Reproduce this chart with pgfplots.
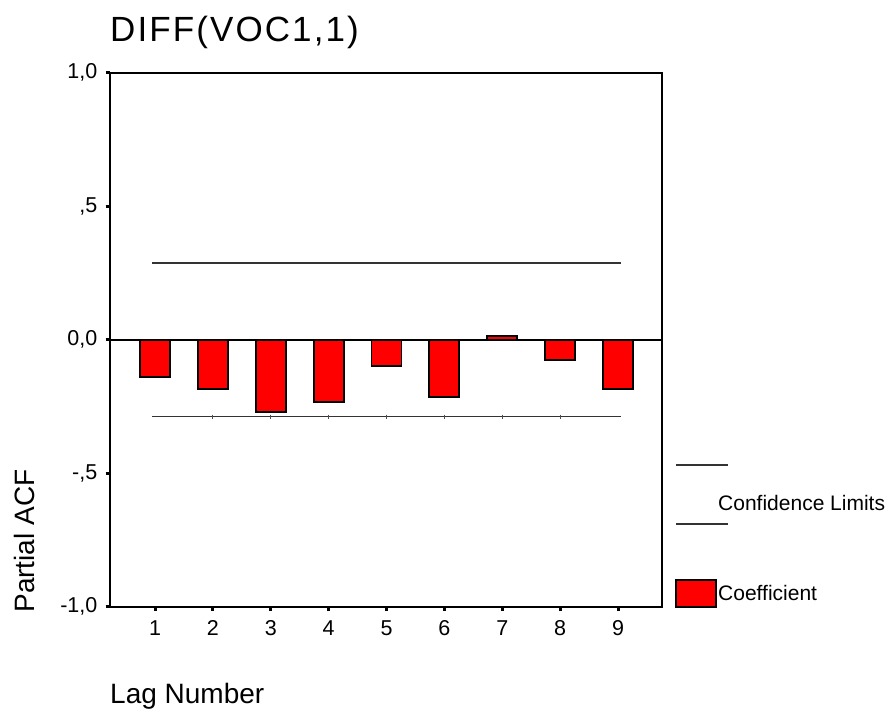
\documentclass[border=0pt]{standalone}
\usepackage{fontspec}
\setmainfont{Liberation Sans}
\usepackage{pgfplots}
\pgfplotsset{compat=1.18}
\begin{document}
\begin{tikzpicture}
\useasboundingbox (0pt,0pt) rectangle (885pt,713pt);
\begin{axis}[
  at={(110pt,106.3pt)}, anchor=south west,
  scale only axis, width=552pt, height=534pt,
  xmin=0.2225, xmax=9.76, ymin=-1, ymax=1,
  axis line style={line width=2pt},
  tick align=outside, tick pos=left,
  major tick length=4.5pt,
  tick style={line width=3pt, black},
  xtick={1,2,3,4,5,6,7,8,9}, xticklabels={1,2,3,4,5,6,7,8,9},
  ytick={-1,-0.5,0,0.5,1}, yticklabels={{-1,0},{-,5},{0,0},{,5},{1,0}},
  ticklabel style={font=\fontsize{21.5}{21.5}\selectfont, inner sep=0pt},
  xticklabel style={yshift=-9pt}, yticklabel style={xshift=-8pt},
]
\addplot[ybar, bar width=30pt, fill=red, draw=black, line width=1.8pt]
  coordinates {(1,-0.141) (2,-0.185) (3,-0.272) (4,-0.234) (5,-0.097) (6,-0.215) (7,0.015) (8,-0.075) (9,-0.186)};
\addplot[black, line width=1.8pt] coordinates {(0.2225,0) (9.76,0)};
\addplot[black!80, line width=1.8pt] coordinates {(0.95,0.288) (9.05,0.288)};
\addplot[black!80, line width=1.8pt] coordinates {(0.95,-0.288) (9.05,-0.288)};
\addplot[only marks, mark=|, mark size=2pt, black!70, line width=1pt] coordinates {(2,-0.288) (3,-0.288) (4,-0.288) (5,-0.288) (6,-0.288) (7,-0.288) (8,-0.288)};
\end{axis}
% titles and labels
\node[anchor=base west, inner sep=0pt, font={\fontsize{35}{35}\selectfont\addfontfeature{LetterSpace=6}}] at (110pt,671pt) {DIFF(VOC1,1)};
\node[anchor=base west, inner sep=0pt, font=\fontsize{28}{28}\selectfont] at (110pt,10pt) {Lag Number};
\node[rotate=90, anchor=base, inner sep=0pt, font=\fontsize{28}{28}\selectfont] at (35pt,172pt) {Partial ACF};
% legend
\draw[black!80, line width=1.8pt] (676pt,248pt) -- (728pt,248pt);
\draw[black!80, line width=1.8pt] (676pt,189pt) -- (728pt,189pt);
\node[anchor=west, inner sep=0pt, font=\fontsize{21}{21}\selectfont] at (718pt,210pt) {Confidence Limits};
\draw[fill=red, draw=black, line width=1.8pt] (676pt,106pt) rectangle (716pt,133pt);
\node[anchor=west, inner sep=0pt, font=\fontsize{21}{21}\selectfont] at (718pt,120pt) {Coefficient};
\end{tikzpicture}
\end{document}
